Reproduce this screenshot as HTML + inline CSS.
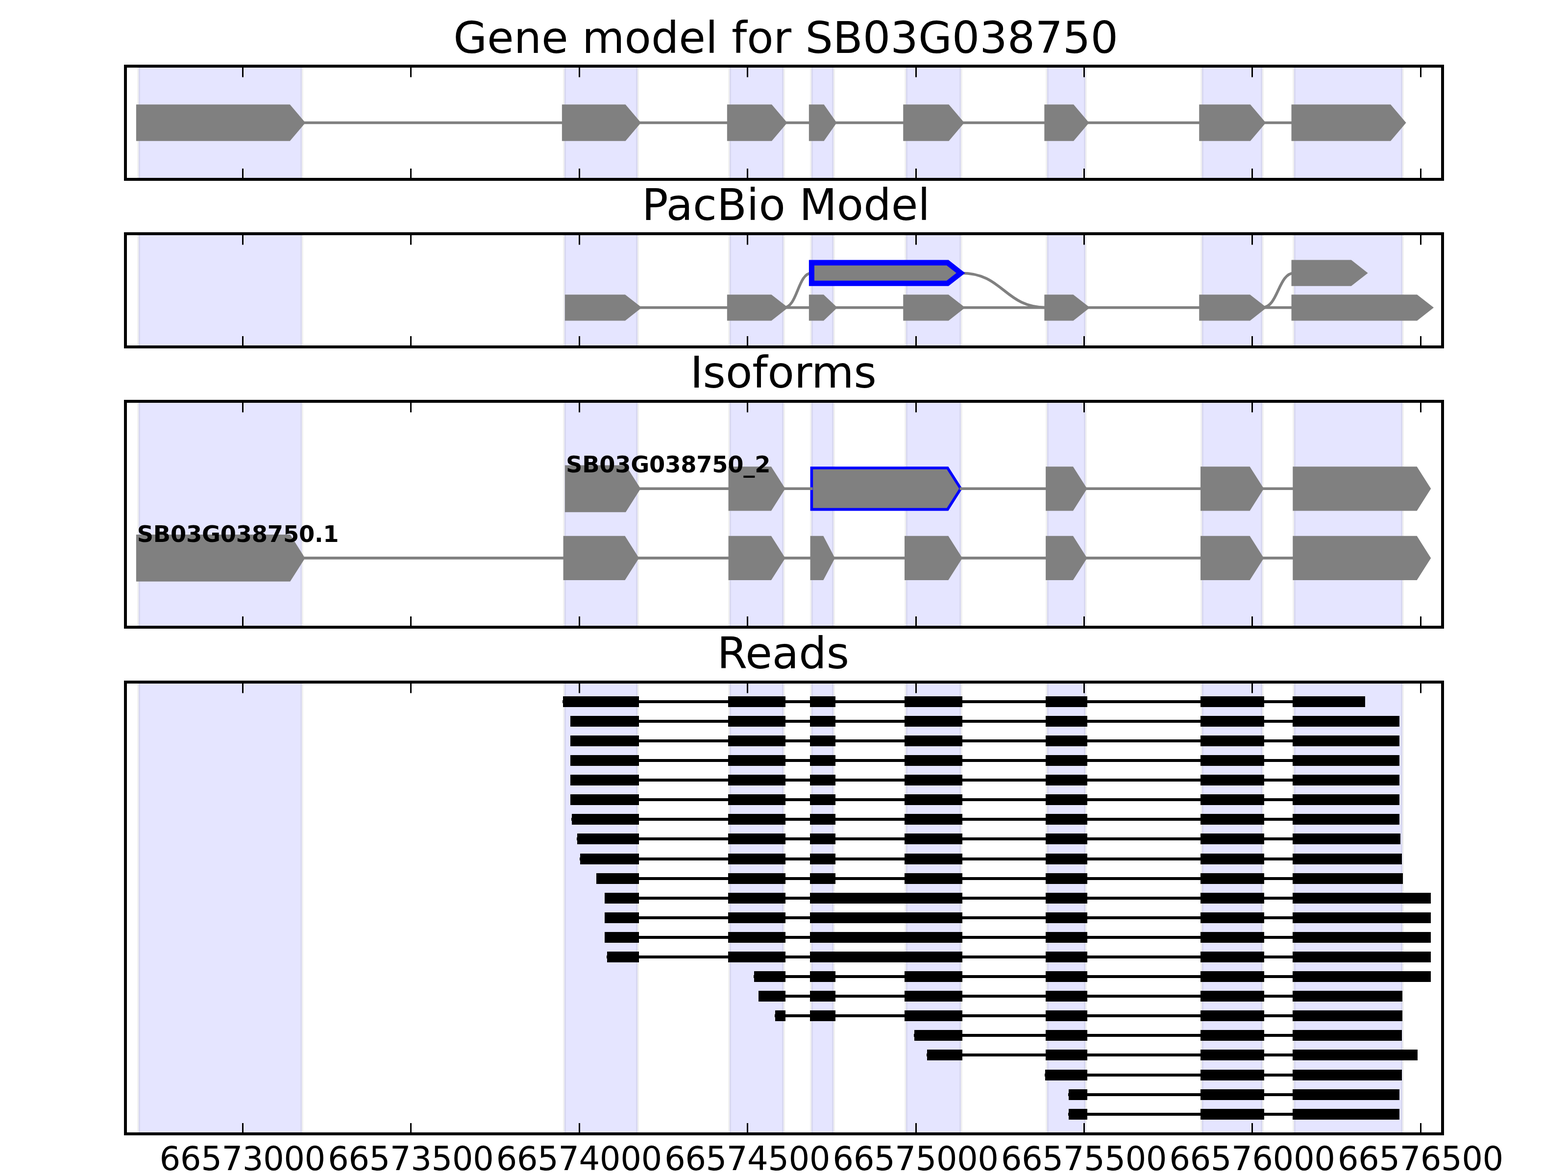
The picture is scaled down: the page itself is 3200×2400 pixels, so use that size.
<!DOCTYPE html>
<html lang="en"><head><meta charset="utf-8"><title>Gene model for SB03G038750</title>
<style>html,body{margin:0;padding:0;background:#fff}body{width:3200px;height:2400px}svg{display:block}text{font-family:'DejaVu Sans','Liberation Sans',sans-serif;fill:#000}.tl{letter-spacing:-0.54px}.lb{font-weight:bold;letter-spacing:-0.19px}</style>
</head><body>
<svg width="3200" height="2400" viewBox="0 0 3200 2400">
<rect width="3200" height="2400" fill="#fff"/>
<defs>
<clipPath id="c0"><rect x="256" y="135" width="2688" height="231"/></clipPath>
<clipPath id="c1"><rect x="256" y="477" width="2688" height="231"/></clipPath>
<clipPath id="c2"><rect x="256" y="819" width="2688" height="461"/></clipPath>
<clipPath id="c3"><rect x="256" y="1392" width="2688" height="922"/></clipPath>
</defs>
<g clip-path="url(#c0)">
<rect x="283" y="125" width="333" height="251" fill="#0000ff" fill-opacity="0.1" stroke="#000" stroke-opacity="0.055" stroke-width="6"/>
<rect x="1152" y="125" width="149" height="251" fill="#0000ff" fill-opacity="0.1" stroke="#000" stroke-opacity="0.055" stroke-width="6"/>
<rect x="1489" y="125" width="110" height="251" fill="#0000ff" fill-opacity="0.1" stroke="#000" stroke-opacity="0.055" stroke-width="6"/>
<rect x="1656" y="125" width="45" height="251" fill="#0000ff" fill-opacity="0.1" stroke="#000" stroke-opacity="0.055" stroke-width="6"/>
<rect x="1849" y="125" width="112" height="251" fill="#0000ff" fill-opacity="0.1" stroke="#000" stroke-opacity="0.055" stroke-width="6"/>
<rect x="2137" y="125" width="78" height="251" fill="#0000ff" fill-opacity="0.1" stroke="#000" stroke-opacity="0.055" stroke-width="6"/>
<rect x="2453" y="125" width="123" height="251" fill="#0000ff" fill-opacity="0.1" stroke="#000" stroke-opacity="0.055" stroke-width="6"/>
<rect x="2641" y="125" width="221" height="251" fill="#0000ff" fill-opacity="0.1" stroke="#000" stroke-opacity="0.055" stroke-width="6"/>
</g>
<polygon points="283.4,218.7 589.1,218.7 616,250.5 589.1,282.3 283.4,282.3" fill="#808080" stroke="#808080" stroke-width="11.11" stroke-linejoin="miter" stroke-miterlimit="10"/>
<polygon points="1152.4,218.7 1273.9,218.7 1300.8,250.5 1273.9,282.3 1152.4,282.3" fill="#808080" stroke="#808080" stroke-width="11.11" stroke-linejoin="miter" stroke-miterlimit="10"/>
<polygon points="1489.4,218.7 1572.4,218.7 1599.3,250.5 1572.4,282.3 1489.4,282.3" fill="#808080" stroke="#808080" stroke-width="11.11" stroke-linejoin="miter" stroke-miterlimit="10"/>
<polygon points="1656.4,218.7 1678.6,218.7 1700.8,250.5 1678.6,282.3 1656.4,282.3" fill="#808080" stroke="#808080" stroke-width="11.11" stroke-linejoin="miter" stroke-miterlimit="10"/>
<polygon points="1848.8,218.7 1933.8,218.7 1960.7,250.5 1933.8,282.3 1848.8,282.3" fill="#808080" stroke="#808080" stroke-width="11.11" stroke-linejoin="miter" stroke-miterlimit="10"/>
<polygon points="2136.9,218.7 2188.4,218.7 2215.3,250.5 2188.4,282.3 2136.9,282.3" fill="#808080" stroke="#808080" stroke-width="11.11" stroke-linejoin="miter" stroke-miterlimit="10"/>
<polygon points="2452.8,218.7 2549.1,218.7 2576,250.5 2549.1,282.3 2452.8,282.3" fill="#808080" stroke="#808080" stroke-width="11.11" stroke-linejoin="miter" stroke-miterlimit="10"/>
<polygon points="2641.1,218.7 2835.4,218.7 2862.3,250.5 2835.4,282.3 2641.1,282.3" fill="#808080" stroke="#808080" stroke-width="11.11" stroke-linejoin="miter" stroke-miterlimit="10"/>
<line x1="613.9" y1="250.5" x2="1154.5" y2="250.5" stroke="#808080" stroke-width="5.56"/>
<line x1="1298.7" y1="250.5" x2="1491.5" y2="250.5" stroke="#808080" stroke-width="5.56"/>
<line x1="1597.2" y1="250.5" x2="1658.5" y2="250.5" stroke="#808080" stroke-width="5.56"/>
<line x1="1698.7" y1="250.5" x2="1850.9" y2="250.5" stroke="#808080" stroke-width="5.56"/>
<line x1="1958.6" y1="250.5" x2="2139" y2="250.5" stroke="#808080" stroke-width="5.56"/>
<line x1="2213.2" y1="250.5" x2="2454.9" y2="250.5" stroke="#808080" stroke-width="5.56"/>
<line x1="2573.9" y1="250.5" x2="2643.2" y2="250.5" stroke="#808080" stroke-width="5.56"/>
<path d="M495.5,135 V157.6 M495.5,366 V344 M838.5,135 V157.6 M838.5,366 V344 M1182.5,135 V157.6 M1182.5,366 V344 M1525.5,135 V157.6 M1525.5,366 V344 M1869.5,135 V157.6 M1869.5,366 V344 M2212.5,135 V157.6 M2212.5,366 V344 M2555.5,135 V157.6 M2555.5,366 V344 M2899.5,135 V157.6 M2899.5,366 V344" stroke="#000" stroke-width="3" fill="none"/>
<rect x="256" y="135" width="2688" height="231" fill="none" stroke="#000" stroke-width="6"/>
<text x="1603.6" y="108" text-anchor="middle" font-size="88.89">Gene model for SB03G038750</text>
<g clip-path="url(#c1)">
<rect x="283" y="467" width="333" height="251" fill="#0000ff" fill-opacity="0.1" stroke="#000" stroke-opacity="0.055" stroke-width="6"/>
<rect x="1152" y="467" width="149" height="251" fill="#0000ff" fill-opacity="0.1" stroke="#000" stroke-opacity="0.055" stroke-width="6"/>
<rect x="1489" y="467" width="110" height="251" fill="#0000ff" fill-opacity="0.1" stroke="#000" stroke-opacity="0.055" stroke-width="6"/>
<rect x="1656" y="467" width="45" height="251" fill="#0000ff" fill-opacity="0.1" stroke="#000" stroke-opacity="0.055" stroke-width="6"/>
<rect x="1849" y="467" width="112" height="251" fill="#0000ff" fill-opacity="0.1" stroke="#000" stroke-opacity="0.055" stroke-width="6"/>
<rect x="2137" y="467" width="78" height="251" fill="#0000ff" fill-opacity="0.1" stroke="#000" stroke-opacity="0.055" stroke-width="6"/>
<rect x="2453" y="467" width="123" height="251" fill="#0000ff" fill-opacity="0.1" stroke="#000" stroke-opacity="0.055" stroke-width="6"/>
<rect x="2641" y="467" width="221" height="251" fill="#0000ff" fill-opacity="0.1" stroke="#000" stroke-opacity="0.055" stroke-width="6"/>
</g>
<path d="M1599.3,627.8 C1627.85,627.8 1627.85,557.2 1656.4,557.2" fill="none" stroke="#808080" stroke-width="5.56" stroke-linecap="butt"/>
<path d="M1960.7,557.2 C2048.8,557.2 2048.8,627.8 2136.9,627.8" fill="none" stroke="#808080" stroke-width="5.56" stroke-linecap="butt"/>
<path d="M2576,627.8 C2608.55,627.8 2608.55,557.2 2641.1,557.2" fill="none" stroke="#808080" stroke-width="5.56" stroke-linecap="butt"/>
<polygon points="1158.4,606.7 1273.9,606.7 1300.8,627.8 1273.9,648.9 1158.4,648.9" fill="#808080" stroke="#808080" stroke-width="11.11" stroke-linejoin="miter" stroke-miterlimit="10"/>
<polygon points="1489.4,606.7 1572.4,606.7 1599.3,627.8 1572.4,648.9 1489.4,648.9" fill="#808080" stroke="#808080" stroke-width="11.11" stroke-linejoin="miter" stroke-miterlimit="10"/>
<polygon points="1656.4,606.7 1678.6,606.7 1700.8,627.8 1678.6,648.9 1656.4,648.9" fill="#808080" stroke="#808080" stroke-width="11.11" stroke-linejoin="miter" stroke-miterlimit="10"/>
<polygon points="1848.8,606.7 1933.8,606.7 1960.7,627.8 1933.8,648.9 1848.8,648.9" fill="#808080" stroke="#808080" stroke-width="11.11" stroke-linejoin="miter" stroke-miterlimit="10"/>
<polygon points="2136.9,606.7 2188.4,606.7 2215.3,627.8 2188.4,648.9 2136.9,648.9" fill="#808080" stroke="#808080" stroke-width="11.11" stroke-linejoin="miter" stroke-miterlimit="10"/>
<polygon points="2452.8,606.7 2549.1,606.7 2576,627.8 2549.1,648.9 2452.8,648.9" fill="#808080" stroke="#808080" stroke-width="11.11" stroke-linejoin="miter" stroke-miterlimit="10"/>
<polygon points="2641.1,606.7 2890.1,606.7 2917,627.8 2890.1,648.9 2641.1,648.9" fill="#808080" stroke="#808080" stroke-width="11.11" stroke-linejoin="miter" stroke-miterlimit="10"/>
<polygon points="2641.1,536.1 2755.7,536.1 2782.6,557.2 2755.7,578.3 2641.1,578.3" fill="#808080" stroke="#808080" stroke-width="11.11" stroke-linejoin="miter" stroke-miterlimit="10"/>
<polygon points="1656.4,536.1 1933.8,536.1 1960.7,557.2 1933.8,578.3 1656.4,578.3" fill="#808080" stroke="#0000ff" stroke-width="11.11" stroke-linejoin="miter" stroke-miterlimit="10"/>
<line x1="1298.7" y1="627.8" x2="1491.5" y2="627.8" stroke="#808080" stroke-width="5.56"/>
<line x1="1597.2" y1="627.8" x2="1658.5" y2="627.8" stroke="#808080" stroke-width="5.56"/>
<line x1="1698.7" y1="627.8" x2="1850.9" y2="627.8" stroke="#808080" stroke-width="5.56"/>
<line x1="1958.6" y1="627.8" x2="2139" y2="627.8" stroke="#808080" stroke-width="5.56"/>
<line x1="2213.2" y1="627.8" x2="2454.9" y2="627.8" stroke="#808080" stroke-width="5.56"/>
<line x1="2573.9" y1="627.8" x2="2643.2" y2="627.8" stroke="#808080" stroke-width="5.56"/>
<path d="M495.5,477 V499.6 M495.5,708 V686 M838.5,477 V499.6 M838.5,708 V686 M1182.5,477 V499.6 M1182.5,708 V686 M1525.5,477 V499.6 M1525.5,708 V686 M1869.5,477 V499.6 M1869.5,708 V686 M2212.5,477 V499.6 M2212.5,708 V686 M2555.5,477 V499.6 M2555.5,708 V686 M2899.5,477 V499.6 M2899.5,708 V686" stroke="#000" stroke-width="3" fill="none"/>
<rect x="256" y="477" width="2688" height="231" fill="none" stroke="#000" stroke-width="6"/>
<text x="1604" y="449" text-anchor="middle" font-size="88.89">PacBio Model</text>
<g clip-path="url(#c2)">
<rect x="283" y="809" width="333" height="481" fill="#0000ff" fill-opacity="0.1" stroke="#000" stroke-opacity="0.055" stroke-width="6"/>
<rect x="1152" y="809" width="149" height="481" fill="#0000ff" fill-opacity="0.1" stroke="#000" stroke-opacity="0.055" stroke-width="6"/>
<rect x="1489" y="809" width="110" height="481" fill="#0000ff" fill-opacity="0.1" stroke="#000" stroke-opacity="0.055" stroke-width="6"/>
<rect x="1656" y="809" width="45" height="481" fill="#0000ff" fill-opacity="0.1" stroke="#000" stroke-opacity="0.055" stroke-width="6"/>
<rect x="1849" y="809" width="112" height="481" fill="#0000ff" fill-opacity="0.1" stroke="#000" stroke-opacity="0.055" stroke-width="6"/>
<rect x="2137" y="809" width="78" height="481" fill="#0000ff" fill-opacity="0.1" stroke="#000" stroke-opacity="0.055" stroke-width="6"/>
<rect x="2453" y="809" width="123" height="481" fill="#0000ff" fill-opacity="0.1" stroke="#000" stroke-opacity="0.055" stroke-width="6"/>
<rect x="2641" y="809" width="221" height="481" fill="#0000ff" fill-opacity="0.1" stroke="#000" stroke-opacity="0.055" stroke-width="6"/>
</g>
<polygon points="1158.4,955 1273.9,955 1300.8,997.3 1273.9,1039.6 1158.4,1039.6" fill="#808080" stroke="#808080" stroke-width="11.11" stroke-linejoin="miter" stroke-miterlimit="10"/>
<polygon points="1489.4,955 1572.4,955 1599.3,997.3 1572.4,1039.6 1489.4,1039.6" fill="#808080" stroke="#808080" stroke-width="5.56" stroke-linejoin="miter" stroke-miterlimit="10"/>
<polygon points="1656.4,955 1933.8,955 1960.7,997.3 1933.8,1039.6 1656.4,1039.6" fill="#808080" stroke="#0000ff" stroke-width="5.56" stroke-linejoin="miter" stroke-miterlimit="10"/>
<polygon points="2136.9,955 2188.4,955 2215.3,997.3 2188.4,1039.6 2136.9,1039.6" fill="#808080" stroke="#808080" stroke-width="5.56" stroke-linejoin="miter" stroke-miterlimit="10"/>
<polygon points="2452.8,955 2549.1,955 2576,997.3 2549.1,1039.6 2452.8,1039.6" fill="#808080" stroke="#808080" stroke-width="5.56" stroke-linejoin="miter" stroke-miterlimit="10"/>
<polygon points="2641.1,955 2890.1,955 2917,997.3 2890.1,1039.6 2641.1,1039.6" fill="#808080" stroke="#808080" stroke-width="5.56" stroke-linejoin="miter" stroke-miterlimit="10"/>
<line x1="1298.7" y1="997.3" x2="1491.5" y2="997.3" stroke="#808080" stroke-width="5.56"/>
<line x1="1597.2" y1="997.3" x2="1658.5" y2="997.3" stroke="#808080" stroke-width="5.56"/>
<line x1="1958.6" y1="997.3" x2="2139" y2="997.3" stroke="#808080" stroke-width="5.56"/>
<line x1="2213.2" y1="997.3" x2="2454.9" y2="997.3" stroke="#808080" stroke-width="5.56"/>
<line x1="2573.9" y1="997.3" x2="2643.2" y2="997.3" stroke="#808080" stroke-width="5.56"/>
<polygon points="283.4,1096.65 589.1,1096.65 616,1138.9 589.1,1181.15 283.4,1181.15" fill="#808080" stroke="#808080" stroke-width="11.11" stroke-linejoin="miter" stroke-miterlimit="10"/>
<polygon points="1152.4,1096.65 1273.9,1096.65 1300.8,1138.9 1273.9,1181.15 1152.4,1181.15" fill="#808080" stroke="#808080" stroke-width="5.56" stroke-linejoin="miter" stroke-miterlimit="10"/>
<polygon points="1489.4,1096.65 1572.4,1096.65 1599.3,1138.9 1572.4,1181.15 1489.4,1181.15" fill="#808080" stroke="#808080" stroke-width="5.56" stroke-linejoin="miter" stroke-miterlimit="10"/>
<polygon points="1656.4,1096.65 1678.6,1096.65 1700.8,1138.9 1678.6,1181.15 1656.4,1181.15" fill="#808080" stroke="#808080" stroke-width="5.56" stroke-linejoin="miter" stroke-miterlimit="10"/>
<polygon points="1848.8,1096.65 1933.8,1096.65 1960.7,1138.9 1933.8,1181.15 1848.8,1181.15" fill="#808080" stroke="#808080" stroke-width="5.56" stroke-linejoin="miter" stroke-miterlimit="10"/>
<polygon points="2136.9,1096.65 2188.4,1096.65 2215.3,1138.9 2188.4,1181.15 2136.9,1181.15" fill="#808080" stroke="#808080" stroke-width="5.56" stroke-linejoin="miter" stroke-miterlimit="10"/>
<polygon points="2452.8,1096.65 2549.1,1096.65 2576,1138.9 2549.1,1181.15 2452.8,1181.15" fill="#808080" stroke="#808080" stroke-width="5.56" stroke-linejoin="miter" stroke-miterlimit="10"/>
<polygon points="2641.1,1096.65 2890.1,1096.65 2917,1138.9 2890.1,1181.15 2641.1,1181.15" fill="#808080" stroke="#808080" stroke-width="5.56" stroke-linejoin="miter" stroke-miterlimit="10"/>
<line x1="613.9" y1="1138.9" x2="1154.5" y2="1138.9" stroke="#808080" stroke-width="5.56"/>
<line x1="1298.7" y1="1138.9" x2="1491.5" y2="1138.9" stroke="#808080" stroke-width="5.56"/>
<line x1="1597.2" y1="1138.9" x2="1658.5" y2="1138.9" stroke="#808080" stroke-width="5.56"/>
<line x1="1698.7" y1="1138.9" x2="1850.9" y2="1138.9" stroke="#808080" stroke-width="5.56"/>
<line x1="1958.6" y1="1138.9" x2="2139" y2="1138.9" stroke="#808080" stroke-width="5.56"/>
<line x1="2213.2" y1="1138.9" x2="2454.9" y2="1138.9" stroke="#808080" stroke-width="5.56"/>
<line x1="2573.9" y1="1138.9" x2="2643.2" y2="1138.9" stroke="#808080" stroke-width="5.56"/>
<text class="lb" x="1155" y="964" font-size="46.3">SB03G038750_2</text>
<text class="lb" x="279.7" y="1106" font-size="46.3">SB03G038750.1</text>
<path d="M495.5,819 V841.6 M495.5,1280 V1258 M838.5,819 V841.6 M838.5,1280 V1258 M1182.5,819 V841.6 M1182.5,1280 V1258 M1525.5,819 V841.6 M1525.5,1280 V1258 M1869.5,819 V841.6 M1869.5,1280 V1258 M2212.5,819 V841.6 M2212.5,1280 V1258 M2555.5,819 V841.6 M2555.5,1280 V1258 M2899.5,819 V841.6 M2899.5,1280 V1258" stroke="#000" stroke-width="3" fill="none"/>
<rect x="256" y="819" width="2688" height="461" fill="none" stroke="#000" stroke-width="6"/>
<text x="1598.6" y="791" text-anchor="middle" font-size="88.89">Isoforms</text>
<g clip-path="url(#c3)">
<rect x="283" y="1382" width="333" height="942" fill="#0000ff" fill-opacity="0.1" stroke="#000" stroke-opacity="0.055" stroke-width="6"/>
<rect x="1152" y="1382" width="149" height="942" fill="#0000ff" fill-opacity="0.1" stroke="#000" stroke-opacity="0.055" stroke-width="6"/>
<rect x="1489" y="1382" width="110" height="942" fill="#0000ff" fill-opacity="0.1" stroke="#000" stroke-opacity="0.055" stroke-width="6"/>
<rect x="1656" y="1382" width="45" height="942" fill="#0000ff" fill-opacity="0.1" stroke="#000" stroke-opacity="0.055" stroke-width="6"/>
<rect x="1849" y="1382" width="112" height="942" fill="#0000ff" fill-opacity="0.1" stroke="#000" stroke-opacity="0.055" stroke-width="6"/>
<rect x="2137" y="1382" width="78" height="942" fill="#0000ff" fill-opacity="0.1" stroke="#000" stroke-opacity="0.055" stroke-width="6"/>
<rect x="2453" y="1382" width="123" height="942" fill="#0000ff" fill-opacity="0.1" stroke="#000" stroke-opacity="0.055" stroke-width="6"/>
<rect x="2641" y="1382" width="221" height="942" fill="#0000ff" fill-opacity="0.1" stroke="#000" stroke-opacity="0.055" stroke-width="6"/>
</g>
<path d="M1148,1432 H2786 M1164,1472 H2856 M1164,1512 H2856 M1164,1552 H2856 M1164,1592 H2856 M1164,1632 H2856 M1166,1672 H2856 M1177,1712 H2858 M1183,1753 H2861 M1217,1793 H2863 M1234,1833 H2920 M1234,1873 H2920 M1234,1913 H2920 M1238,1953 H2920 M1538,1993 H2920 M1548,2033 H2862 M1581,2073 H2862 M1865,2113 H2861 M1891,2153 H2893 M2132,2194 H2861 M2180,2234 H2856 M2180,2274 H2856" stroke="#000" stroke-width="6" fill="none"/>
<path d="M1149,1421h155v22h-155z M1486,1421h117v22h-117z M1653,1421h52v22h-52z M1846,1421h118v22h-118z M2134,1421h85v22h-85z M2450,1421h130v22h-130z M2638,1421h148v22h-148z M1164,1461h140v22h-140z M1486,1461h117v22h-117z M1653,1461h52v22h-52z M1846,1461h118v22h-118z M2134,1461h85v22h-85z M2450,1461h130v22h-130z M2638,1461h218v22h-218z M1164,1501h140v22h-140z M1486,1501h117v22h-117z M1653,1501h52v22h-52z M1846,1501h118v22h-118z M2134,1501h85v22h-85z M2450,1501h130v22h-130z M2638,1501h218v22h-218z M1164,1541h140v22h-140z M1486,1541h117v22h-117z M1653,1541h52v22h-52z M1846,1541h118v22h-118z M2134,1541h85v22h-85z M2450,1541h130v22h-130z M2638,1541h218v22h-218z M1164,1581h140v22h-140z M1486,1581h117v22h-117z M1653,1581h52v22h-52z M1846,1581h118v22h-118z M2134,1581h85v22h-85z M2450,1581h130v22h-130z M2638,1581h218v22h-218z M1164,1621h140v22h-140z M1486,1621h117v22h-117z M1653,1621h52v22h-52z M1846,1621h118v22h-118z M2134,1621h85v22h-85z M2450,1621h130v22h-130z M2638,1621h218v22h-218z M1167,1661h137v22h-137z M1486,1661h117v22h-117z M1653,1661h52v22h-52z M1846,1661h118v22h-118z M2134,1661h85v22h-85z M2450,1661h130v22h-130z M2638,1661h218v22h-218z M1178,1701h126v22h-126z M1486,1701h117v22h-117z M1653,1701h52v22h-52z M1846,1701h118v22h-118z M2134,1701h85v22h-85z M2450,1701h130v22h-130z M2638,1701h220v22h-220z M1184,1742h120v22h-120z M1486,1742h117v22h-117z M1653,1742h52v22h-52z M1846,1742h118v22h-118z M2134,1742h85v22h-85z M2450,1742h130v22h-130z M2638,1742h223v22h-223z M1217,1782h87v22h-87z M1486,1782h117v22h-117z M1653,1782h52v22h-52z M1846,1782h118v22h-118z M2134,1782h85v22h-85z M2450,1782h130v22h-130z M2638,1782h225v22h-225z M1234,1822h70v22h-70z M1486,1822h117v22h-117z M1653,1822h311v22h-311z M2134,1822h85v22h-85z M2450,1822h130v22h-130z M2638,1822h282v22h-282z M1234,1862h70v22h-70z M1486,1862h117v22h-117z M1653,1862h311v22h-311z M2134,1862h85v22h-85z M2450,1862h130v22h-130z M2638,1862h282v22h-282z M1234,1902h70v22h-70z M1486,1902h117v22h-117z M1653,1902h311v22h-311z M2134,1902h85v22h-85z M2450,1902h130v22h-130z M2638,1902h282v22h-282z M1239,1942h65v22h-65z M1486,1942h117v22h-117z M1653,1942h311v22h-311z M2134,1942h85v22h-85z M2450,1942h130v22h-130z M2638,1942h282v22h-282z M1539,1982h64v22h-64z M1653,1982h52v22h-52z M1846,1982h118v22h-118z M2134,1982h85v22h-85z M2450,1982h130v22h-130z M2638,1982h282v22h-282z M1548,2022h55v22h-55z M1653,2022h52v22h-52z M1846,2022h118v22h-118z M2134,2022h85v22h-85z M2450,2022h130v22h-130z M2638,2022h224v22h-224z M1582,2062h21v22h-21z M1653,2062h52v22h-52z M1846,2062h118v22h-118z M2134,2062h85v22h-85z M2450,2062h130v22h-130z M2638,2062h224v22h-224z M1866,2102h98v22h-98z M2134,2102h85v22h-85z M2450,2102h130v22h-130z M2638,2102h223v22h-223z M1892,2142h72v22h-72z M2134,2142h85v22h-85z M2450,2142h130v22h-130z M2638,2142h255v22h-255z M2133,2183h86v22h-86z M2450,2183h130v22h-130z M2638,2183h223v22h-223z M2181,2223h38v22h-38z M2450,2223h130v22h-130z M2638,2223h218v22h-218z M2181,2263h38v22h-38z M2450,2263h130v22h-130z M2638,2263h218v22h-218z" fill="#000"/>
<path d="M495.5,1392 V1414.6 M495.5,2314 V2292 M838.5,1392 V1414.6 M838.5,2314 V2292 M1182.5,1392 V1414.6 M1182.5,2314 V2292 M1525.5,1392 V1414.6 M1525.5,2314 V2292 M1869.5,1392 V1414.6 M1869.5,2314 V2292 M2212.5,1392 V1414.6 M2212.5,2314 V2292 M2555.5,1392 V1414.6 M2555.5,2314 V2292 M2899.5,1392 V1414.6 M2899.5,2314 V2292" stroke="#000" stroke-width="3" fill="none"/>
<rect x="256" y="1392" width="2688" height="922" fill="none" stroke="#000" stroke-width="6"/>
<text x="1598.2" y="1364" text-anchor="middle" font-size="88.89">Reads</text>
<text class="tl" x="325.6" y="2388" font-size="67.3">66573000</text>
<text class="tl" x="669.04" y="2388" font-size="67.3">66573500</text>
<text class="tl" x="1012.48" y="2388" font-size="67.3">66574000</text>
<text class="tl" x="1355.92" y="2388" font-size="67.3">66574500</text>
<text class="tl" x="1699.36" y="2388" font-size="67.3">66575000</text>
<text class="tl" x="2042.8" y="2388" font-size="67.3">66575500</text>
<text class="tl" x="2386.24" y="2388" font-size="67.3">66576000</text>
<text class="tl" x="2729.68" y="2388" font-size="67.3">66576500</text>
</svg>
</body></html>
